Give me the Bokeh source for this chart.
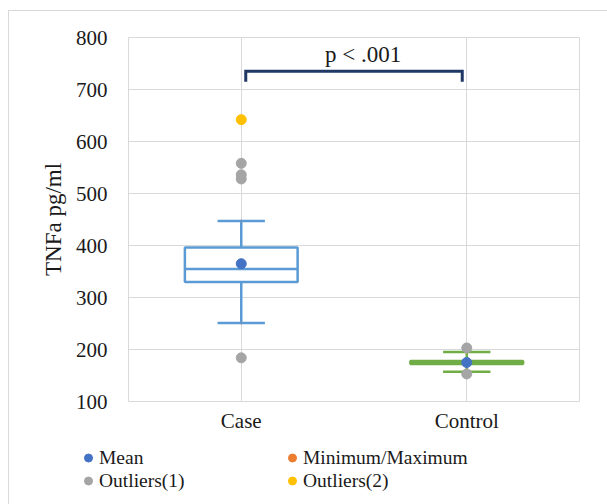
from bokeh.plotting import figure
from bokeh.models import Range1d, FixedTicker, Legend, LegendItem
from bokeh.layouts import column
from bokeh.core.properties import value
from bokeh.embed import file_html
from bokeh.resources import INLINE

# ---- data ----
categories = ["Case", "Control"]
cat_pos = [0.5, 1.5]
q1 = [330, 172]
median = [355, 175]
q3 = [396, 178]
whisker_low = [251, 157]
whisker_high = [447, 195]
means = [365, 175]
outliers1_pos = [0.5, 0.5, 0.5, 0.5, 1.5, 1.5]
outliers1_vals = [558, 536, 528, 184, 203, 153]
outliers2_pos = [0.5]
outliers2_vals = [642]
y_ticks = [100, 200, 300, 400, 500, 600, 700, 800]
p_label = "p < .001"
bracket_x = [0.52, 0.52, 1.48, 1.48]
bracket_y = [715, 735, 735, 715]
p_label_x = 1.04
p_label_y = 768
legend_labels = ["Mean", "Minimum/Maximum", "Outliers(1)", "Outliers(2)"]
legend_colors = ["#4472c4", "#ed7d31", "#a5a5a5", "#ffc000"]

box_colors = ["#5b9bd5", "#70ad47"]
FONT = "Liberation Serif"
TXT = "#1a1a1a"
GRID = "#d9d9d9"

p = figure(output_backend="svg", toolbar_location=None,
           x_range=Range1d(0, 2), y_range=Range1d(100, 800),
           frame_width=451, frame_height=364,
           min_border_left=119, min_border_top=26, min_border_right=28, min_border_bottom=36)
p.background_fill_color = "white"
p.border_fill_color = "white"
p.outline_line_color = GRID
p.outline_line_width = 1

# axes
p.xaxis.ticker = FixedTicker(ticks=cat_pos)
p.xaxis.major_label_overrides = {cat_pos[i]: categories[i] for i in range(len(categories))}
p.yaxis.ticker = FixedTicker(ticks=y_ticks)
for ax in (p.xaxis, p.yaxis):
    ax.axis_line_color = None
    ax.major_tick_line_color = None
    ax.minor_tick_line_color = None
    ax.major_label_text_font = FONT
    ax.major_label_text_font_size = "21px"
    ax.major_label_text_color = TXT
p.xaxis.major_label_standoff = 1
p.yaxis.major_label_standoff = 15
p.yaxis.axis_label = "TNFa pg/ml"
p.yaxis.axis_label_text_font = FONT
p.yaxis.axis_label_text_font_size = "23px"
p.yaxis.axis_label_text_font_style = "normal"
p.yaxis.axis_label_text_color = TXT
p.yaxis.axis_label_standoff = 7
p.grid.grid_line_color = GRID
p.grid.grid_line_width = 1

half_box = 0.25
half_cap = 0.105

# whisker stems
p.segment(x0=cat_pos, y0=q3, x1=cat_pos, y1=whisker_high, line_color=box_colors, line_width=2.5)
p.segment(x0=cat_pos, y0=q1, x1=cat_pos, y1=whisker_low, line_color=box_colors, line_width=2.5)
# min / max markers (under caps)
mm_x = cat_pos + cat_pos
mm_y = whisker_low + whisker_high
p.scatter(x=mm_x, y=mm_y, size=2, color=legend_colors[1])
# caps
p.segment(x0=[c - half_cap for c in cat_pos], y0=whisker_high,
          x1=[c + half_cap for c in cat_pos], y1=whisker_high, line_color=box_colors, line_width=2.5)
p.segment(x0=[c - half_cap for c in cat_pos], y0=whisker_low,
          x1=[c + half_cap for c in cat_pos], y1=whisker_low, line_color=box_colors, line_width=2.5)
# boxes
p.quad(left=[c - half_box for c in cat_pos], right=[c + half_box for c in cat_pos],
       bottom=q1, top=q3, fill_color="white", line_color=box_colors, line_width=2.5)
p.segment(x0=[c - half_box for c in cat_pos], y0=median,
          x1=[c + half_box for c in cat_pos], y1=median, line_color=box_colors, line_width=2.5)

p.scatter(x=outliers1_pos, y=outliers1_vals, size=10, color=legend_colors[2])
p.scatter(x=outliers2_pos, y=outliers2_vals, size=10, color=legend_colors[3])
p.scatter(x=cat_pos, y=means, size=10, color=legend_colors[0])

# significance bracket
p.line(x=bracket_x, y=bracket_y, line_color="#203864", line_width=3, line_join="miter")
p.text(x=[p_label_x], y=[p_label_y], text=[p_label], text_align="center", text_baseline="alphabetic",
       text_font=value(FONT), text_font_size="23px", text_color=TXT)

# ---- legend strip (proxy renderers, hidden) ----
pl = figure(width=598, height=67, output_backend="svg", toolbar_location=None,
            x_axis_type=None, y_axis_type=None, x_range=Range1d(0, 2), y_range=Range1d(100, 800),
            min_border_left=0, min_border_right=0, min_border_top=0, min_border_bottom=0)
pl.frame_align = False
pl.outline_line_color = None
pl.background_fill_color = "white"
pl.border_fill_color = "white"
proxy = {}
proxy["Mean"] = pl.scatter(x=cat_pos, y=means, size=10, color=legend_colors[0], visible=False)
proxy["Minimum/Maximum"] = pl.scatter(x=mm_x, y=mm_y, size=10, color=legend_colors[1], visible=False)
proxy["Outliers(1)"] = pl.scatter(x=outliers1_pos, y=outliers1_vals, size=10, color=legend_colors[2], visible=False)
proxy["Outliers(2)"] = pl.scatter(x=outliers2_pos, y=outliers2_vals, size=10, color=legend_colors[3], visible=False)
order = ["Mean", "Outliers(1)", "Minimum/Maximum", "Outliers(2)"]  # column-major fill
items = [LegendItem(label=lab, renderers=[proxy[lab]]) for lab in order]

legend = Legend(items=items, location=(69, 12), ncols=2,
                padding=0, margin=0, spacing=0, glyph_width=20, glyph_height=23,
                label_height=23, label_width=183, label_standoff=1, label_text_font=FONT,
                label_text_font_size="19.5px", label_text_color=TXT,
                border_line_color=None, background_fill_alpha=0)
pl.add_layout(legend, "center")

layout = column(p, pl, spacing=0)
layout.styles = {"margin-left": "8px", "margin-top": "10px",
                 "border-left": f"1px solid {GRID}", "border-top": f"1px solid {GRID}"}

open("out.html", "w").write(file_html(layout, INLINE))
